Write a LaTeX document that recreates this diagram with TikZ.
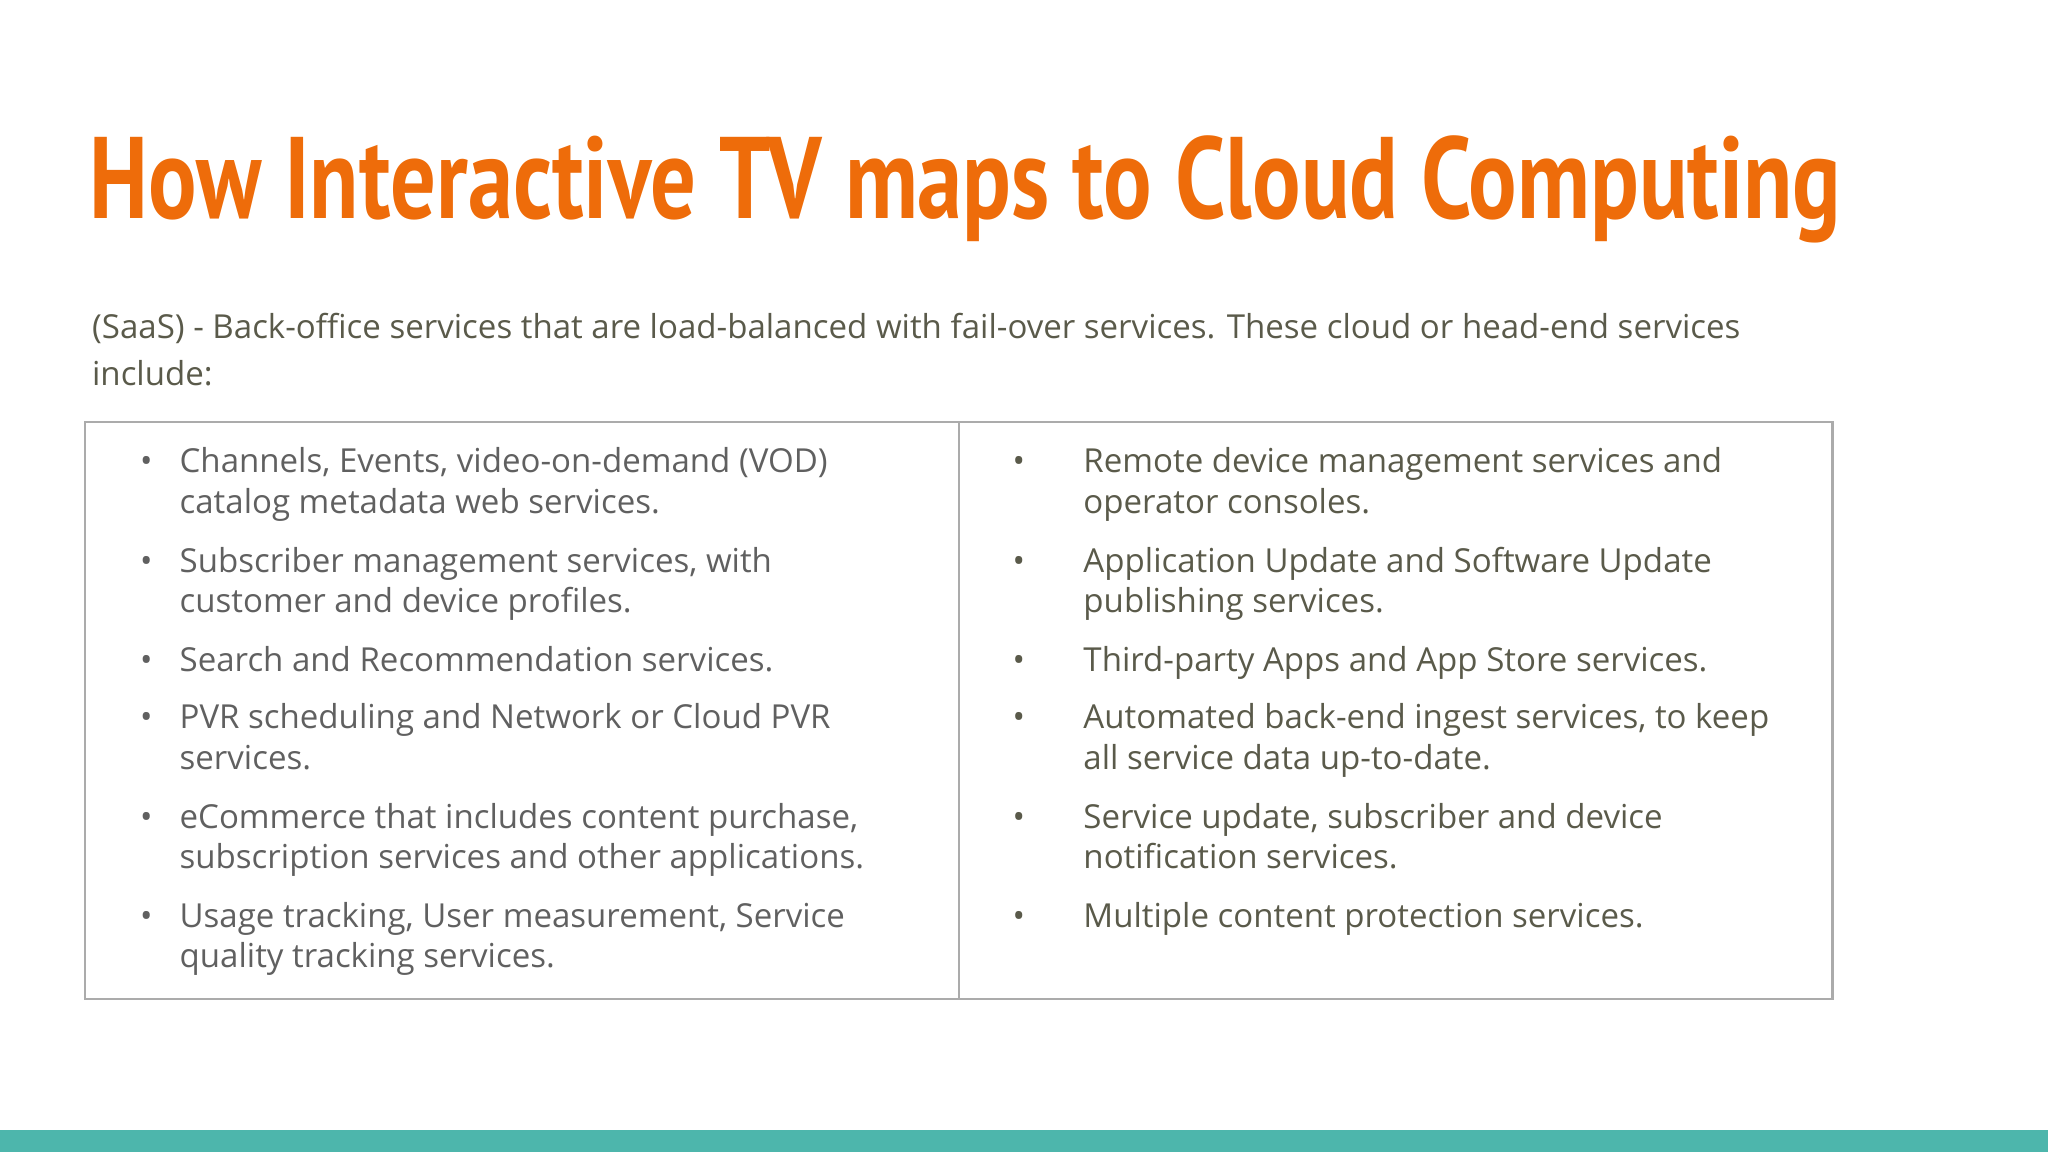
\documentclass[tikz,border=0pt]{standalone}
\usepackage{fontspec}
\setmainfont{Open Sans}
\newfontfamily\titlefont{PT Sans}
\definecolor{ttl}{HTML}{EE6C0A}
\definecolor{txt}{HTML}{5A5A4A}
\definecolor{txtl}{HTML}{606060}
\definecolor{teal}{HTML}{4DB6AC}
\definecolor{brd}{HTML}{ABABAB}
\begin{document}
\begin{tikzpicture}[x=0.0130612cm,y=-0.0130612cm,
  body/.style={anchor=base west,inner sep=0,font=\fontsize{9.4}{11}\selectfont,text=txt},
  bul/.style={anchor=base,inner sep=0,font=\fontsize{9.4}{11}\selectfont,text=txt}]
\useasboundingbox (0,0) rectangle (1568,882);
\fill[teal] (0,865) rectangle (1568,882);
\node[anchor=base west,inner sep=0,text=ttl,xscale=0.78,font=\titlefont\bfseries\fontsize{33}{36}\selectfont] (title) at (68,167) {How Interactive TV maps to Cloud Computing};
\node[body] (i1) at (70,259) {(SaaS) - Back-office services that are load-balanced with fail-over services. These cloud or head-end services};
\node[body] (i2) at (70,295) {include:};
\draw[brd,line width=0.6pt] (65,323) rectangle (1403,765);
\draw[brd,line width=0.6pt] (734,323) -- (734,765) coordinate (div);
\foreach \y/\t in {354/{Channels, Events, video-on-demand (VOD)},385/{catalog metadata web services.},
  430/{Subscriber management services, with},461/{customer and device profiles.},
  506/{Search and Recommendation services.},
  550/{PVR scheduling and Network or Cloud PVR},581/{services.},
  626/{eCommerce that includes content purchase,},657/{subscription services and other applications.},
  702/{Usage tracking, User measurement, Service},733/{quality tracking services.}}
  \node[body,text=txtl] at (137,\y+8) {\t};
\foreach \y in {354,430,506,550,626,702} \node[bul,text=txtl] at (112,\y+8) {•};
\foreach \y/\t in {354/{Remote device management services and},385/{operator consoles.},
  430/{Application Update and Software Update},461/{publishing services.},
  506/{Third-party Apps and App Store services.},
  550/{Automated back-end ingest services, to keep},581/{all service data up-to-date.},
  626/{Service update, subscriber and device},657/{notification services.},
  702/{Multiple content protection services.}}
  \node[body] at (829,\y+8) {\t};
\foreach \y in {354,430,506,550,626,702} \node[bul] at (780,\y+8) {•};
\end{tikzpicture}
\end{document}
